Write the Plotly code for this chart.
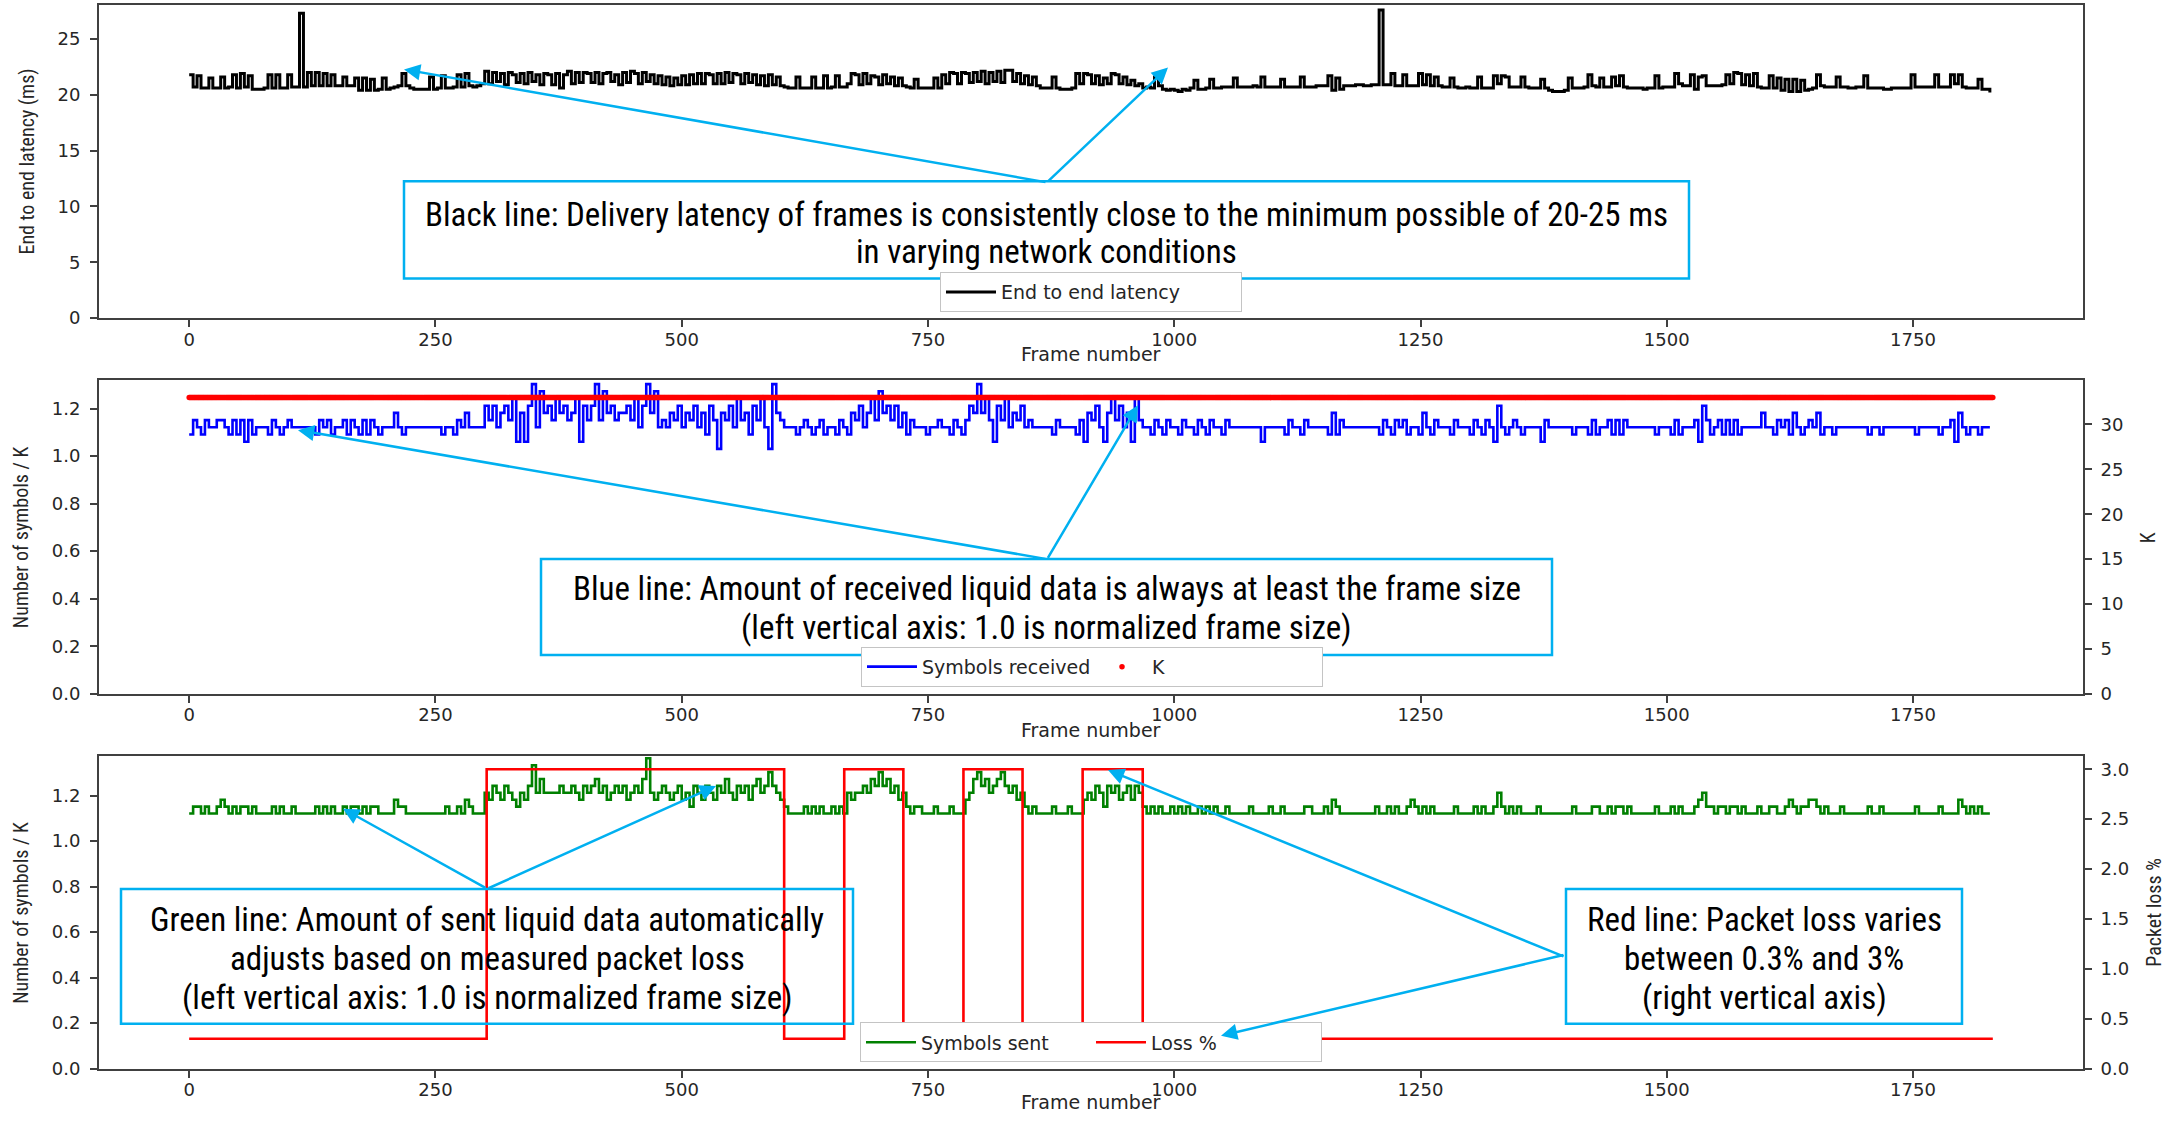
import plotly.graph_objects as go

W, H = 2177, 1121
FRAME_STEP = 4          # one stored sample every 4 frames
N_FRAMES = 1832
K_SYMBOLS = 33

# End to end latency (ms), every 4th frame starting at frame 0
latency_ms = [
    21.8,20.7,21.7,20.6,20.6,21.5,20.6,20.6,21.6,20.6,20.7,21.8,20.6,21.9,20.7,21.7,20.5,20.5,20.5,20.6,21.8,20.6,21.8,20.6,20.6,
    21.8,20.7,20.7,27.3,20.7,22.0,20.8,22.0,20.8,21.9,20.8,21.8,20.8,20.8,21.6,20.8,20.8,21.5,20.4,21.5,20.4,21.4,20.4,20.5,21.5,
    20.5,20.6,20.7,20.8,21.9,20.8,20.6,20.5,20.5,20.5,20.5,21.6,20.5,20.6,21.7,20.6,20.6,20.7,21.8,20.7,21.9,20.8,20.7,20.8,21.0,
    22.1,21.0,22.0,21.2,21.9,20.9,22.0,21.8,21.1,21.9,21.0,22.0,21.2,21.8,20.9,21.9,21.8,20.9,21.9,20.6,21.8,22.1,21.0,22.0,21.1,
    22.0,21.9,21.1,22.0,21.0,21.9,22.0,21.2,21.8,20.9,22.0,21.1,22.1,21.9,21.0,22.0,21.2,21.8,21.0,21.7,20.9,21.6,20.8,21.5,20.9,
    21.7,20.9,21.8,21.0,21.9,21.0,21.9,21.8,21.0,21.9,21.0,22.0,21.1,21.9,21.8,21.0,21.9,21.1,21.8,20.9,21.7,20.8,21.8,20.9,21.6,
    20.8,20.7,20.6,20.6,21.6,20.6,20.6,20.6,21.6,20.6,20.6,21.7,20.6,20.7,21.7,20.7,20.7,21.0,21.9,21.8,20.9,21.9,21.0,21.7,21.6,
    20.9,21.8,21.0,21.6,20.8,21.5,20.8,20.7,20.6,21.4,20.6,20.6,20.6,20.6,21.5,20.6,21.8,21.0,22.0,21.9,21.0,22.0,21.9,21.1,22.0,
    21.2,22.1,21.0,22.0,21.2,22.1,21.1,22.2,22.2,21.2,21.9,21.0,21.7,20.9,21.6,20.8,20.6,20.6,20.6,21.6,20.6,20.5,20.5,20.5,20.6,
    21.9,21.0,21.9,21.8,21.0,21.7,20.9,21.5,21.0,21.9,21.8,21.0,21.6,20.9,21.3,20.8,21.0,20.6,20.7,20.6,21.6,20.8,20.5,20.4,20.5,
    20.4,20.3,20.5,20.4,20.6,21.3,20.5,20.5,20.6,21.4,20.6,20.6,20.7,20.7,20.7,21.5,20.7,20.7,20.7,20.7,20.8,20.7,21.6,20.7,20.7,
    20.7,20.7,21.4,20.7,20.7,20.7,20.7,21.6,20.7,20.7,20.7,20.8,20.8,20.8,21.7,20.4,21.5,20.5,20.8,20.8,20.8,20.9,20.9,20.8,20.8,
    20.9,20.9,27.6,20.9,20.9,21.9,20.8,20.8,21.8,20.8,20.8,20.8,21.9,20.9,21.8,20.8,21.6,20.8,20.7,20.7,21.5,20.7,20.6,20.6,20.7,
    20.6,20.6,21.6,20.6,20.6,20.6,21.7,21.0,21.7,21.6,20.7,20.7,20.7,21.6,20.7,20.6,20.6,20.6,21.4,20.6,20.4,20.3,20.3,20.3,20.4,
    21.5,20.6,20.6,20.6,20.7,21.8,20.8,20.7,21.5,20.7,20.7,21.6,20.8,21.7,20.7,20.6,20.6,20.6,20.6,20.5,20.6,20.6,21.7,20.6,20.7,
    20.7,20.7,21.9,21.0,20.8,20.8,21.8,20.5,21.6,21.7,20.8,20.8,20.8,20.8,20.9,21.8,21.0,22.0,21.9,20.9,21.8,20.8,21.9,20.7,20.6,
    20.6,21.7,20.6,21.5,20.4,21.4,20.3,21.4,20.3,21.3,20.4,20.5,20.6,21.8,20.8,20.7,20.7,20.7,21.6,20.7,20.7,20.6,20.6,20.7,20.7,
    21.7,20.6,20.6,20.6,20.6,20.5,20.5,20.6,20.6,20.6,20.6,20.6,21.8,20.7,20.7,20.7,20.7,20.7,21.8,20.7,20.7,20.7,21.8,21.0,21.8,
    20.7,20.6,20.6,20.6,21.4,20.5,20.5,20.2,
]

# Symbols received per frame (count), every 4th frame
symbols_received = [
    36,38,37,36,38,37,37,38,38,37,36,38,36,38,35,38,36,37,37,37,36,38,37,36,37,
    38,37,37,37,37,37,37,36,38,37,38,36,37,37,38,36,38,37,36,38,36,38,37,36,37,
    37,37,39,37,36,37,37,37,37,37,37,37,37,37,36,37,37,36,38,37,39,37,37,37,37,
    40,38,40,37,39,40,38,41,35,39,35,40,43,37,42,39,40,38,41,39,40,38,39,41,35,
    40,38,40,43,38,42,39,40,38,39,39,40,38,41,37,40,43,39,42,37,38,37,39,38,40,
    37,39,38,40,37,39,36,40,38,34,39,38,40,37,41,38,39,36,40,38,41,37,34,43,39,
    38,37,37,37,36,37,38,37,36,37,38,36,37,37,36,38,37,36,39,38,40,37,39,41,38,
    42,39,40,38,40,37,39,36,38,37,37,37,36,37,37,38,37,37,36,38,37,36,38,40,39,
    43,39,41,38,35,40,38,41,37,39,38,40,37,38,37,37,37,37,37,36,38,37,37,37,37,
    36,38,35,39,38,40,37,35,39,41,38,40,37,39,35,41,38,37,37,36,38,37,36,38,37,
    37,36,38,37,37,36,38,37,36,38,37,37,36,38,37,37,37,37,37,37,37,37,35,37,37,
    37,37,37,36,38,37,37,36,38,37,37,37,37,37,36,39,36,38,37,37,37,37,37,37,37,
    37,37,36,38,37,36,38,37,38,36,37,37,36,39,37,36,38,37,37,37,36,38,37,37,37,
    36,38,37,36,38,37,35,40,37,36,37,38,37,36,37,37,37,37,35,38,37,37,37,37,37,
    37,36,37,37,37,36,38,36,37,37,38,36,38,36,38,37,37,37,37,37,37,37,36,37,37,
    37,36,38,36,37,37,37,38,35,40,38,36,37,38,36,38,36,38,36,37,37,37,37,37,39,
    37,37,36,38,37,38,36,39,37,36,37,38,37,39,36,37,37,36,37,37,37,37,37,37,37,
    37,36,37,37,36,37,37,37,37,37,37,37,37,36,37,37,37,37,37,36,37,37,38,35,39,
    37,36,37,37,36,37,37,37,
]

# Symbols sent per frame (count), every 4th frame
symbols_sent = [
    37,38,38,37,38,37,37,38,39,38,37,38,37,38,38,37,38,37,37,37,37,38,37,38,37,
    37,38,37,37,37,37,37,38,37,38,37,38,37,37,38,37,38,38,37,38,37,38,38,37,37,
    37,37,39,38,38,37,37,37,37,37,37,37,37,37,37,38,37,37,38,37,39,38,37,37,37,
    40,39,41,40,39,41,40,39,38,40,39,41,44,40,42,40,40,40,40,41,40,40,41,40,39,
    41,40,41,42,40,41,39,40,41,40,41,39,40,41,40,42,45,40,39,40,41,40,39,40,41,
    39,40,38,41,40,39,41,40,39,41,40,42,40,39,41,40,41,39,41,42,40,41,43,41,40,
    39,38,37,37,37,37,38,37,38,37,38,37,37,38,37,38,37,40,39,40,40,41,40,42,41,
    43,41,42,40,41,39,40,38,37,38,38,37,37,37,38,37,37,37,38,37,37,37,39,40,42,
    43,41,42,40,41,42,43,41,40,41,39,40,38,37,38,37,37,37,37,38,37,37,37,38,37,
    37,37,39,40,39,41,40,38,41,40,41,39,40,41,39,41,40,38,37,38,37,38,37,37,38,
    37,38,37,38,37,37,38,37,38,37,38,37,37,38,37,37,37,37,37,38,37,37,37,37,38,
    37,37,38,37,37,37,37,37,38,38,37,37,37,38,37,39,38,37,37,37,37,37,37,37,37,
    37,38,37,37,38,37,38,37,37,38,39,38,37,38,37,38,37,37,37,37,37,38,37,37,37,
    37,38,37,38,37,37,38,40,38,37,38,37,38,37,37,37,37,38,37,37,37,37,37,37,37,
    37,38,37,37,37,37,38,38,37,37,38,37,38,38,37,38,37,37,37,37,37,37,38,37,37,
    37,38,37,38,37,37,37,38,39,40,38,38,37,38,38,37,38,38,37,38,37,37,37,38,37,
    37,38,38,37,37,38,39,38,37,38,38,39,39,38,37,38,37,37,37,38,37,37,37,37,37,
    37,38,37,37,38,37,37,37,37,37,37,37,37,38,37,37,37,37,37,38,37,37,37,37,39,
    38,37,38,37,38,37,37,37,
]

# Packet loss (%) : value holds from each change frame to the next
loss_change_frame = [0, 302, 604, 665, 725, 786, 846, 907, 968, 1831]
loss_percent = [0.3, 3.0, 0.3, 3.0, 0.3, 3.0, 0.3, 3.0, 0.3, 0.3]

frame_ticks = [0, 250, 500, 750, 1000, 1250, 1500, 1750]
latency_ticks = [0, 5, 10, 15, 20, 25]
ratio_ticks = [0.0, 0.2, 0.4, 0.6, 0.8, 1.0, 1.2]
k_ticks = [0, 5, 10, 15, 20, 25, 30]
loss_ticks = [0.0, 0.5, 1.0, 1.5, 2.0, 2.5, 3.0]

# ---------------------------------------------------------------
lat_frames = [i * FRAME_STEP for i in range(len(latency_ms))]
recv_frames = [i * FRAME_STEP for i in range(len(symbols_received))]
sent_frames = [i * FRAME_STEP for i in range(len(symbols_sent))]
recv_ratio = [v / K_SYMBOLS for v in symbols_received]
sent_ratio = [v / K_SYMBOLS for v in symbols_sent]
k_frames = list(range(N_FRAMES))
k_values = [K_SYMBOLS] * N_FRAMES


def px(x):
    return x / W


def py(y):
    return 1 - y / H


TICK_FONT = dict(family="DejaVu Sans", size=18, color="#262626")
NARROW = "Liberation Sans Narrow, Arial Narrow, Roboto Condensed, Liberation Sans, sans-serif"
BOX_FONT = dict(family=NARROW, size=33, color="#000000")
TITLE_FONT = dict(family=NARROW, size=20, color="#262626")
LEG_FONT = dict(family="DejaVu Sans", size=19, color="#262626")
SPINE = "#404040"
CYAN = "#00B0F0"

XRANGE = [-91.55, 1922.55]
XDOM = [px(99), px(2083)]
Y1DOM = [py(321), py(5.3)]
Y2DOM = [py(700), py(383)]
Y3DOM = [py(1078.3), py(763)]

base_axis = dict(showline=True, linecolor=SPINE, linewidth=1.8, ticks="outside",
                 ticklen=7, tickwidth=1.8, tickcolor=SPINE, tickfont=TICK_FONT,
                 showgrid=False, zeroline=False, fixedrange=True)

fig = go.Figure()

fig.add_trace(go.Scatter(x=lat_frames, y=latency_ms, mode="lines", name="End to end latency",
                         line=dict(color="black", width=3, shape="hv"), showlegend=True,
                         xaxis="x", yaxis="y", legend="legend"))
fig.add_trace(go.Scatter(x=recv_frames, y=recv_ratio, mode="lines", name="Symbols received",
                         line=dict(color="#0000FF", width=2.6, shape="hv"), showlegend=True,
                         xaxis="x2", yaxis="y2", legend="legend2"))
fig.add_trace(go.Scatter(x=k_frames, y=k_values, mode="markers", name="K",
                         marker=dict(color="#FF0000", size=5.5, line=dict(width=0)), showlegend=True,
                         xaxis="x2", yaxis="y3", legend="legend2"))
fig.add_trace(go.Scatter(x=sent_frames, y=sent_ratio, mode="lines", name="Symbols sent",
                         line=dict(color="#008000", width=2.6, shape="hv"), showlegend=True,
                         xaxis="x3", yaxis="y4", legend="legend3"))
fig.add_trace(go.Scatter(x=loss_change_frame, y=loss_percent, mode="lines", name="Loss %",
                         line=dict(color="#FF0000", width=2.6, shape="hv"), showlegend=True,
                         xaxis="x3", yaxis="y5", legend="legend3"))

shapes = []
annotations = []

# text boxes (pixel rectangles) and their text lines (line centre y in pixels)
boxes = [
    ((404, 183, 1689, 281), [
        (216, "Black line: Delivery latency of frames is consistently close to the minimum possible of 20-25 ms"),
        (254, "in varying network conditions")]),
    ((541, 564, 1552, 661), [
        (594, "Blue line: Amount of received liquid data is always at least the frame size"),
        (633, "(left vertical axis: 1.0 is normalized frame size)")]),
    ((121, 897, 853, 1033), [
        (928, "Green line: Amount of sent liquid data automatically"),
        (967, "adjusts based on measured packet loss"),
        (1006, "(left vertical axis: 1.0 is normalized frame size)")]),
    ((1566, 897, 1962, 1033), [
        (928, "Red line: Packet loss varies"),
        (967, "between 0.3% and 3%"),
        (1006, "(right vertical axis)")]),
]
for (x0, y0, x1, y1), lines in boxes:
    shapes.append(dict(type="rect", xref="paper", yref="paper", x0=px(x0), x1=px(x1),
                       y0=py(y1), y1=py(y0), line=dict(color=CYAN, width=2.5),
                       fillcolor="rgba(0,0,0,0)", layer="above"))
    for ly, txt in lines:
        annotations.append(dict(xref="paper", yref="paper", x=px((x0 + x1) / 2), y=py(ly),
                                xanchor="center", yanchor="middle", text=txt, showarrow=False,
                                align="center", font=BOX_FONT))

# arrows: (tail, tip) in pixels
arrows = [
    ((1047, 183), (404, 70)), ((1047, 183), (1168, 68)),
    ((1047, 563), (298, 434)), ((1047, 563), (1138, 409)),
    ((487, 896), (343, 816)), ((487, 896), (716, 793)),
    ((1565, 964), (1108, 777)), ((1565, 964), (1221, 1045)),
]
for (tx, ty), (hx, hy) in arrows:
    annotations.append(dict(xref="paper", yref="paper", x=px(hx), y=py(hy),
                            axref="pixel", ayref="pixel", ax=tx - hx, ay=ty - hy,
                            text="", showarrow=True, arrowhead=2, arrowsize=1.3,
                            arrowwidth=2.5, arrowcolor=CYAN, standoff=0, startstandoff=0))

# axis titles
for x, y, txt in [(1091, 357, "Frame number"), (1091, 737, "Frame number"), (1091, 1112, "Frame number")]:
    annotations.append(dict(xref="paper", yref="paper", x=px(x), y=py(y), text=txt, showarrow=False,
                            xanchor="center", yanchor="middle",
                            font=dict(family="DejaVu Sans", size=19, color="#262626")))
for x, y, txt in [(27, 163, "End to end latency (ms)"), (21, 542, "Number of symbols / K"),
                  (21, 921, "Number of symbols / K"), (2148, 543, "K"), (2154, 921, "Packet loss %")]:
    annotations.append(dict(xref="paper", yref="paper", x=px(x), y=py(y), text=txt, showarrow=False,
                            xanchor="center", yanchor="middle", textangle=-90, font=TITLE_FONT))

leg_common = dict(orientation="h", xanchor="center", yanchor="bottom", bgcolor="white",
                  bordercolor="#c4c4c4", borderwidth=1, font=LEG_FONT, itemwidth=50,
                  tracegroupgap=0, visible=True)

fig.update_layout(
    width=W, height=H, margin=dict(l=0, r=0, t=0, b=0), autosize=False, showlegend=True,
    paper_bgcolor="white", plot_bgcolor="white",
    xaxis=dict(base_axis, domain=XDOM, range=XRANGE, tickvals=frame_ticks, anchor="y", mirror=True,
               ticklabelstandoff=-3),
    yaxis=dict(base_axis, domain=Y1DOM, range=[0, 28.02], tickvals=latency_ticks, anchor="x",
               mirror=True, ticklabelstandoff=6),
    xaxis2=dict(base_axis, domain=XDOM, range=XRANGE, tickvals=frame_ticks, anchor="y2", mirror=True,
                ticklabelstandoff=-3),
    yaxis2=dict(base_axis, domain=Y2DOM, range=[0, 1.322], tickvals=ratio_ticks, tickformat=".1f",
                anchor="x2", ticklabelstandoff=6),
    yaxis3=dict(base_axis, range=[0, 35.0], tickvals=k_ticks, overlaying="y2", side="right",
                anchor="x2", ticklabelstandoff=5),
    xaxis3=dict(base_axis, domain=XDOM, range=XRANGE, tickvals=frame_ticks, anchor="y4", mirror=True,
                ticklabelstandoff=-3),
    yaxis4=dict(base_axis, domain=Y3DOM, range=[0, 1.373], tickvals=ratio_ticks, tickformat=".1f",
                anchor="x3", ticklabelstandoff=6),
    yaxis5=dict(base_axis, range=[0, 3.131], tickvals=loss_ticks, tickformat=".1f", overlaying="y4",
                side="right", anchor="x3", ticklabelstandoff=5),
    legend=dict(leg_common, x=px(1091), y=py(315), entrywidth=235),
    legend2=dict(leg_common, x=px(1092), y=py(693), entrywidth=165),
    legend3=dict(leg_common, x=px(1091), y=py(1072), entrywidth=165),
    shapes=shapes,
    annotations=annotations,
)

fig.write_html("out.html")
